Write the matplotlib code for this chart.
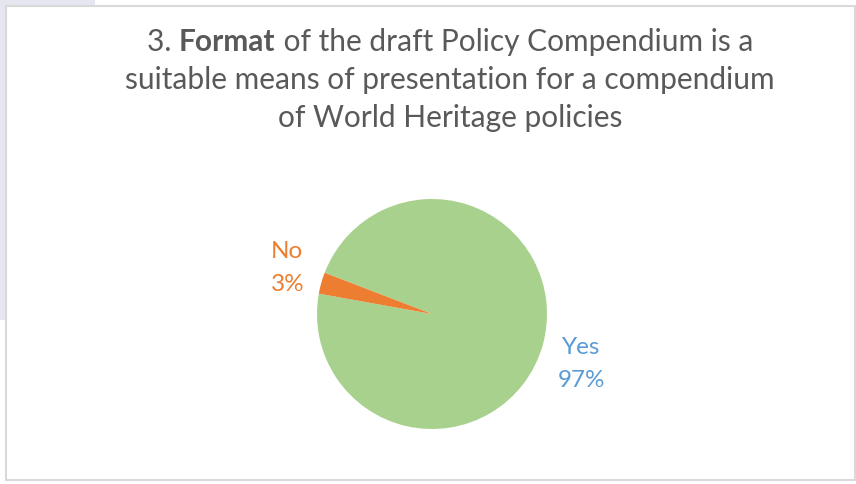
import numpy as np
import matplotlib.pyplot as plt
from matplotlib.patches import Rectangle

# data
categories = ['Yes', 'No']
shares = [97, 3]
pct_labels = ['97%', '3%']
title_lines = ['3. ', 'Format', ' of the draft Policy Compendium is a',
               'suitable means of presentation for a compendium',
               'of World Heritage policies']

W, H = 856, 484
plt.rcParams['font.family'] = ['Lato', 'DejaVu Sans']

fig = plt.figure(figsize=(W / 100, H / 100), dpi=100)
fig.patch.set_facecolor('white')

def px(x, y):
    return x / W, 1 - y / H

# lavender background edge and chart frame (behind the axes)
fig.patches.append(Rectangle(px(0, 6), 95 / W, 6 / H, transform=fig.transFigure,
                             facecolor='#E6E6F0', edgecolor='none', zorder=-3))
fig.patches.append(Rectangle(px(0, 320), 6 / W, 320 / H, transform=fig.transFigure,
                             facecolor='#E6E6F0', edgecolor='none', zorder=-3))
fig.patches.append(Rectangle(px(6, 480), 849 / W, 474 / H, transform=fig.transFigure,
                             facecolor='white', edgecolor='#D9D9D9', linewidth=1.5,
                             zorder=-2))

# title
title_color = '#595959'
fs = 21.5
cx = 450
renderer = fig.canvas.get_renderer()
parts = [(title_lines[0], 'normal'), (title_lines[1], 'bold'), (title_lines[2], 'normal')]
widths = []
for s, wt in parts:
    t = fig.text(0, 0, s, fontsize=fs, fontweight=wt)
    widths.append(t.get_window_extent(renderer).width)
    t.remove()
x0 = cx - sum(widths) / 2
for (s, wt), w in zip(parts, widths):
    fig.text(x0 / W, 1 - 42 / H, s, fontsize=fs, fontweight=wt, color=title_color,
             ha='left', va='center')
    x0 += w
fig.text(cx / W, 1 - 80 / H, title_lines[3], fontsize=fs, color=title_color,
         ha='center', va='center')
fig.text(cx / W, 1 - 118 / H, title_lines[4], fontsize=fs, color=title_color,
         ha='center', va='center')

# pie
pcx, pcy, r = 432, 314, 115
ax = fig.add_axes([(pcx - r) / W, (H - pcy - r) / H, 2 * r / W, 2 * r / H])
ax.patch.set_visible(False)
colors = ['#A9D18E', '#ED7D31']
label_colors = ['#5B9BD5', '#ED7D31']
wedges, _ = ax.pie(shares, colors=colors, startangle=159, counterclock=False,
                   radius=1, wedgeprops=dict(linewidth=0))
ax.set_xlim(-1, 1)
ax.set_ylim(-1, 1)
ax.set_aspect('equal')
ax.axis('off')

dist = [1.37, 1.32]
shift = [-3, -2]
for w, cat, pl, lc, d, sh in zip(wedges, categories, pct_labels, label_colors, dist, shift):
    ang = np.deg2rad((w.theta1 + w.theta2) / 2 + sh)
    ax.text(d * np.cos(ang), d * np.sin(ang), f'{cat}\n{pl}', color=lc, fontsize=17.5,
            ha='center', va='center', linespacing=1.7, clip_on=False)

fig.savefig('out.png', dpi=100)
